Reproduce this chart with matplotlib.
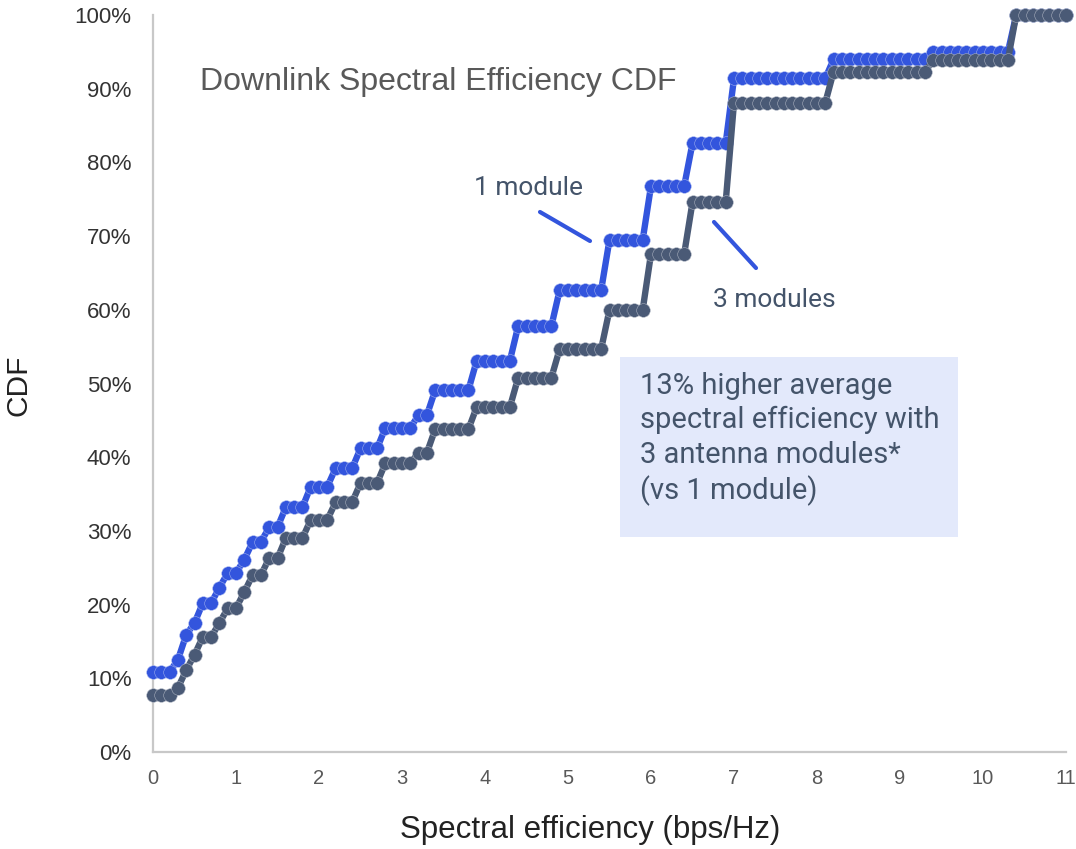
import numpy as np
import matplotlib
matplotlib.use("Agg")
import matplotlib.pyplot as plt
from matplotlib.patches import Rectangle

plt.rcParams["font.family"] = ["Liberation Sans", "DejaVu Sans"]

# Spectral efficiency grid (bps/Hz), sampled every 0.1
efficiency = [round(i / 10, 1) for i in range(0, 111)]

# CDF (%) for a single antenna module
one_module = [
    10.9, 10.9, 10.9, 12.5, 15.9, 17.5, 20.2, 20.2, 22.3, 24.3,
    24.3, 26.1, 28.5, 28.5, 30.5, 30.5, 33.2, 33.2, 33.2, 36.0,
    36.0, 36.0, 38.5, 38.5, 38.5, 41.2, 41.2, 41.2, 44.0, 44.0,
    44.0, 44.0, 45.7, 45.7, 49.1, 49.1, 49.1, 49.1, 49.1, 53.1,
    53.1, 53.1, 53.1, 53.1, 57.8, 57.8, 57.8, 57.8, 57.8, 62.7,
    62.7, 62.7, 62.7, 62.7, 62.7, 69.5, 69.5, 69.5, 69.5, 69.5,
    76.8, 76.8, 76.8, 76.8, 76.8, 82.6, 82.6, 82.6, 82.6, 82.6,
    91.4, 91.4, 91.4, 91.4, 91.4, 91.4, 91.4, 91.4, 91.4, 91.4,
    91.4, 91.4, 94.0, 94.0, 94.0, 94.0, 94.0, 94.0, 94.0, 94.0,
    94.0, 94.0, 94.0, 94.0, 95.0, 95.0, 95.0, 95.0, 95.0, 95.0,
    95.0, 95.0, 95.0, 95.0, 100.0, 100.0, 100.0, 100.0, 100.0, 100.0,
    100.0,
]

# CDF (%) for three antenna modules
three_modules = [
    7.7, 7.7, 7.7, 8.7, 11.1, 13.2, 15.6, 15.6, 17.5, 19.5,
    19.5, 21.7, 24.0, 24.0, 26.3, 26.3, 29.0, 29.0, 29.0, 31.5,
    31.5, 31.5, 33.9, 33.9, 33.9, 36.5, 36.5, 36.5, 39.2, 39.2,
    39.2, 39.2, 40.6, 40.6, 43.8, 43.8, 43.8, 43.8, 43.8, 46.8,
    46.8, 46.8, 46.8, 46.8, 50.8, 50.8, 50.8, 50.8, 50.8, 54.7,
    54.7, 54.7, 54.7, 54.7, 54.7, 60.0, 60.0, 60.0, 60.0, 60.0,
    67.6, 67.6, 67.6, 67.6, 67.6, 74.6, 74.6, 74.6, 74.6, 74.6,
    88.1, 88.1, 88.1, 88.1, 88.1, 88.1, 88.1, 88.1, 88.1, 88.1,
    88.1, 88.1, 92.3, 92.3, 92.3, 92.3, 92.3, 92.3, 92.3, 92.3,
    92.3, 92.3, 92.3, 92.3, 93.9, 93.9, 93.9, 93.9, 93.9, 93.9,
    93.9, 93.9, 93.9, 93.9, 100.0, 100.0, 100.0, 100.0, 100.0, 100.0,
    100.0,
]

x_ticks = list(range(0, 12))
y_ticks = list(range(0, 101, 10))
y_tick_labels = [f"{v}%" for v in y_ticks]

BLUE = "#3355DD"
SLATE = "#4A5A76"
TEXT_SLATE = "#44546A"

W, H = 1076, 849


def fx(px):
    return px / W


def fy(py):
    return 1 - py / H


fig = plt.figure(figsize=(10.76, 8.49), dpi=100)
ax = fig.add_axes([fx(153), 97 / H, 913 / W, 737 / H])

line_kw = dict(lw=4.6, marker="o", ms=9.8, mew=0.35, clip_on=False,
               solid_capstyle="round", solid_joinstyle="round")
ax.plot(efficiency, one_module, color=BLUE, mfc=BLUE, mec="#a9b8ef", zorder=3, **line_kw)
ax.plot(efficiency, three_modules, color=SLATE, mfc=SLATE, mec="#b3b9c6", zorder=4, **line_kw)

ax.set_xlim(0, 11)
ax.set_ylim(0, 100)
ax.set_xticks(x_ticks)
ax.set_xticklabels([str(v) for v in x_ticks], fontsize=14.5, color="#595959")
ax.set_yticks(y_ticks)
ax.set_yticklabels(y_tick_labels, fontsize=16, color="#333333")
ax.tick_params(axis="both", length=0)
ax.tick_params(axis="y", pad=15.5)
ax.tick_params(axis="x", pad=12.5)

for side in ("top", "right"):
    ax.spines[side].set_visible(False)
for side in ("left", "bottom"):
    ax.spines[side].set_color("#c8c8c8")
    ax.spines[side].set_linewidth(1.6)

# Axis titles
fig.text(fx(590), fy(830), "Spectral efficiency (bps/Hz)", fontsize=22.5,
         color="#222222", ha="center", va="center")
fig.text(fx(19), fy(385), "CDF", fontsize=21.5, color="#222222",
         ha="center", va="center", rotation=90)

# Chart title inside the plotting area
fig.text(fx(200), fy(82), "Downlink Spectral Efficiency CDF",
         fontsize=23, color="#595959", ha="left", va="center")

# Series call-outs
fig.text(fx(474), fy(188), "1 module", fontsize=19, color=TEXT_SLATE,
         ha="left", va="center", family=["Roboto", "DejaVu Sans"])
fig.text(fx(713), fy(300), "3 modules", fontsize=19, color=TEXT_SLATE,
         ha="left", va="center", family=["Roboto", "DejaVu Sans"])
fig.add_artist(plt.Line2D([fx(540), fx(590)], [fy(212), fy(241)],
                          color=BLUE, lw=3, solid_capstyle="round"))
fig.add_artist(plt.Line2D([fx(714), fx(756)], [fy(222), fy(268)],
                          color=BLUE, lw=3, solid_capstyle="round"))

# Highlight box with the summary note
fig.add_artist(Rectangle((fx(620), fy(537)), 338 / W, 180 / H,
                         transform=fig.transFigure, facecolor="#E3E9FB",
                         edgecolor="none", zorder=5))
fig.text(fx(640), fy(372),
         "13% higher average\nspectral efficiency with\n3 antenna modules*\n(vs 1 module)",
         fontsize=21, color=TEXT_SLATE, ha="left", va="top", linespacing=1.28,
         family=["Roboto", "DejaVu Sans"], zorder=6)

fig.savefig("out.png", dpi=100)
